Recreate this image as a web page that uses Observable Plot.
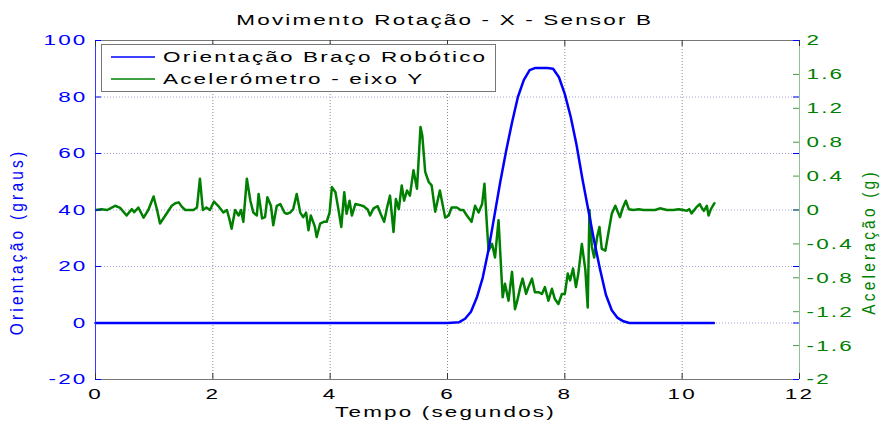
<!DOCTYPE html>
<html>
<head>
<meta charset="utf-8">
<script src="https://cdn.jsdelivr.net/npm/d3@7"></script>
<script src="https://cdn.jsdelivr.net/npm/@observablehq/plot@0.6"></script>
<style>
  body { margin: 0; background: #fff; }
  #wrap { position: relative; width: 887px; height: 424px; font-family: "Liberation Sans", Arial, sans-serif; }
  #title { height: 30px; padding: 10px 0 0 3px; box-sizing: border-box; line-height: 20px; text-align: center; font-size: 15.5px; color: #000; }
  #title span { display: inline-block; transform: scaleX(1.45); letter-spacing: 1.5px; white-space: nowrap; }
  #legend { position: absolute; left: 101px; top: 44px; width: 395px; height: 48px; box-sizing: border-box; border: 1px solid #777; background: #fff; }
  #legend .row { position: absolute; left: 0; height: 22px; width: 100%; line-height: 22px; font-size: 15.5px; white-space: nowrap; color: #000; }
  #legend .row svg { position: absolute; left: 9px; top: 0; }
  #legend .row span { position: absolute; left: 61px; top: 0; transform: scaleX(1.45); transform-origin: left center; letter-spacing: 1.5px; }
  svg { display: block; }
</style>
</head>
<body>
<div id="wrap">
  <div id="title"><span></span></div>
  <div id="chart"></div>
  <div id="legend"></div>
</div>
<script>
// Texts
const titleText = "Movimento Rotação - X - Sensor B";
const xLabel = "Tempo (segundos)";
const yLeftLabel = "Orientação (graus)";
const yRightLabel = "Aceleração (g)";
const seriesNames = ["Orientação Braço Robótico", "Acelerómetro - eixo Y"];
const seriesColors = ["#0000ff", "#008000"];

// Axis ticks
const xTicks = [0, 2, 4, 6, 8, 10, 12];
const degTicks = [-20, 0, 20, 40, 60, 80, 100];
const accTicks = [-2, -1.6, -1.2, -0.8, -0.4, 0, 0.4, 0.8, 1.2, 1.6, 2];

// Robot arm orientation (degrees) over time (s)
const orientTime = [0, 6.0, 6.2, 6.3, 6.4, 6.5, 6.6, 6.7, 6.8, 6.9, 7.0, 7.1, 7.2, 7.3, 7.4, 7.5, 7.6, 7.7, 7.8, 7.9, 8.0, 8.1, 8.2, 8.3, 8.4, 8.5, 8.6, 8.7, 8.8, 8.9, 9.0, 9.1, 10.54];
const orientDeg  = [0, 0, 0.3, 1.5, 4, 9, 16, 26, 38, 50, 61, 71, 80, 86, 89.5, 90.3, 90.3, 90.3, 90, 87, 81, 73, 63, 51, 40, 29, 19, 10, 4.5, 1.8, 0.6, 0, 0];

// Accelerometer Y axis (g) over time (s)
const accTime = [0.01, 0.10, 0.20, 0.27, 0.335, 0.42, 0.53, 0.62, 0.66, 0.73, 0.82, 0.90, 0.99, 1.05, 1.10, 1.19, 1.30, 1.36, 1.42, 1.47, 1.53, 1.67, 1.73, 1.78, 1.83, 1.89, 1.95, 2.02, 2.09, 2.18, 2.24, 2.28, 2.32, 2.38, 2.44, 2.48, 2.52, 2.58, 2.64, 2.69, 2.75, 2.78, 2.84, 2.89, 2.93, 2.99, 3.03, 3.09, 3.15, 3.22, 3.26, 3.32, 3.37, 3.43, 3.49, 3.54, 3.59, 3.63, 3.67, 3.71, 3.74, 3.77, 3.83, 3.89, 3.94, 3.99, 4.03, 4.09, 4.14, 4.19, 4.24, 4.28, 4.33, 4.37, 4.43, 4.50, 4.57, 4.64, 4.68, 4.74, 4.81, 4.86, 4.92, 4.97, 5.02, 5.08, 5.12, 5.17, 5.22, 5.26, 5.31, 5.36, 5.42, 5.48, 5.54, 5.57, 5.62, 5.68, 5.73, 5.79, 5.87, 5.96, 6.02, 6.07, 6.16, 6.22, 6.27, 6.33, 6.41, 6.47, 6.53, 6.59, 6.63, 6.67, 6.70, 6.76, 6.81, 6.87, 6.91, 6.94, 6.98, 7.04, 7.10, 7.15, 7.19, 7.24, 7.28, 7.34, 7.38, 7.44, 7.49, 7.55, 7.61, 7.66, 7.72, 7.78, 7.83, 7.89, 7.95, 8.00, 8.05, 8.09, 8.14, 8.19, 8.23, 8.29, 8.35, 8.39, 8.42, 8.46, 8.50, 8.55, 8.59, 8.63, 8.69, 8.74, 8.80, 8.86, 8.94, 8.99, 9.04, 9.09, 9.17, 9.26, 9.34, 9.43, 9.54, 9.62, 9.74, 9.85, 9.94, 10.02, 10.08, 10.12, 10.16, 10.24, 10.30, 10.33, 10.37, 10.42, 10.45, 10.49, 10.55];
const accG = [0.00, 0.01, 0.00, 0.025, 0.05, 0.025, -0.065, 0.01, -0.025, 0.03, -0.09, 0.00, 0.16, 0.00, -0.16, -0.065, 0.05, 0.08, 0.09, 0.04, 0.00, 0.00, 0.03, 0.37, 0.00, 0.03, 0.00, 0.10, 0.05, -0.03, 0.00, -0.10, -0.22, 0.00, -0.065, 0.00, -0.14, 0.37, 0.11, -0.03, -0.065, 0.19, -0.10, -0.085, 0.15, 0.05, -0.18, 0.05, 0.07, -0.03, -0.045, -0.03, 0.01, 0.19, -0.03, -0.085, -0.03, -0.24, -0.065, -0.14, -0.20, -0.32, -0.16, -0.14, -0.14, -0.03, 0.27, 0.21, 0.01, -0.20, 0.21, -0.045, 0.11, -0.065, 0.07, 0.06, 0.045, 0.005, -0.065, 0.02, 0.045, -0.045, -0.14, 0.03, 0.17, -0.26, 0.13, 0.01, 0.29, 0.11, 0.23, 0.17, 0.47, 0.25, 0.98, 0.88, 0.45, 0.33, 0.29, -0.02, 0.23, -0.09, -0.065, 0.03, 0.03, 0.00, 0.00, -0.065, -0.14, 0.05, -0.03, 0.07, 0.31, -0.16, -0.48, -0.40, -0.56, -0.12, -0.64, -1.03, -0.87, -1.07, -0.73, -1.17, -1.07, -0.91, -0.81, -0.99, -0.91, -0.81, -0.97, -0.97, -0.99, -0.91, -1.07, -0.93, -1.05, -1.11, -0.99, -0.99, -0.75, -0.83, -0.69, -0.91, -0.75, -0.40, -0.71, -1.15, 0.00, -0.43, -0.56, -0.32, -0.20, -0.46, -0.48, -0.28, -0.045, 0.05, -0.085, 0.03, 0.11, 0.01, 0.00, 0.01, 0.00, 0.00, 0.00, 0.02, 0.00, 0.00, 0.01, 0.00, -0.01, 0.01, -0.04, 0.03, 0.07, 0.03, -0.01, 0.05, -0.065, 0.01, 0.08];

const orientation = orientTime.map((t, i) => ({t, deg: orientDeg[i]}));
const accel = accTime.map((t, i) => ({t, g: accG[i]}));

// The right axis (g) shares the frame with the left axis (degrees):
// -2 g sits on -20°, +2 g on 100°.
const gToDeg = g => 40 + 30 * g;
const degToG = d => (d - 40) / 30;
const fmtNum = v => String(+v.toFixed(1)); // ASCII hyphen for negatives

const W = 887, H = 394;
const mL = 95, mR = 88, mT = 10, mB = 45;
const frameW = W - mL - mR, frameH = H - mT - mB;
const tick = 6;
const font = '"Liberation Sans", Arial, sans-serif';

document.querySelector("#title span").textContent = titleText;

const chart = Plot.plot({
  width: W, height: H,
  marginLeft: mL, marginRight: mR, marginTop: mT, marginBottom: mB,
  style: {fontFamily: font, fontSize: "15.5px", background: "#fff", overflow: "visible"},
  x: {domain: [xTicks[0], xTicks[xTicks.length - 1]]},
  y: {domain: [degTicks[0], degTicks[degTicks.length - 1]]},
  marks: [
    // dotted grid
    Plot.gridX(xTicks.slice(1, -1), {stroke: "#8c8c8c", strokeOpacity: 1, strokeDasharray: "1,2"}),
    Plot.gridY(degTicks.slice(1, -1), {stroke: "#a3a3dc", strokeOpacity: 1, strokeDasharray: "1,2"}),
    // series
    Plot.line(accel, {x: "t", y: d => gToDeg(d.g), stroke: seriesColors[1], strokeWidth: 2.5, strokeLinejoin: "round"}),
    Plot.line(orientation, {x: "t", y: "deg", stroke: seriesColors[0], strokeWidth: 2.5, strokeLinejoin: "round"}),
    // frame
    Plot.ruleY([degTicks[0], degTicks[degTicks.length - 1]], {stroke: "#777"}),
    Plot.ruleX([xTicks[0]], {stroke: "#3a3aff"}),
    Plot.ruleX([xTicks[xTicks.length - 1]], {stroke: "#8fc38f"}),
    // inward tick marks
    Plot.tickX(xTicks, {stroke: "#333", insetTop: frameH - tick}),
    Plot.tickX(xTicks, {stroke: "#333", insetBottom: frameH - tick}),
    Plot.tickY(degTicks, {stroke: seriesColors[0], insetRight: frameW - tick}),
    Plot.tickY(degTicks, {stroke: seriesColors[0], insetLeft: frameW - tick}),
    Plot.tickY(accTicks.slice(1, -1).map(gToDeg), {stroke: "#4a9a4a", insetLeft: frameW - tick}),
    // tick labels
    Plot.axisX(xTicks, {anchor: "bottom", tickSize: 0, tickPadding: 8, label: null, tickFormat: fmtNum, color: "#000"}),
    Plot.axisY(degTicks, {anchor: "left", tickSize: 0, tickPadding: 8, label: null, tickFormat: fmtNum, color: seriesColors[0]}),
    Plot.axisY(accTicks.map(gToDeg), {anchor: "right", tickSize: 0, tickPadding: 7, label: null, tickFormat: d => fmtNum(degToG(d)), color: seriesColors[1]}),
    // axis titles
    Plot.text([xLabel], {text: d => d, frameAnchor: "bottom", textAnchor: "middle", dx: -2, dy: 37, fill: "#000"}),
    Plot.text([yLeftLabel], {text: d => d, frameAnchor: "left", textAnchor: "middle", rotate: -90, dx: -79, dy: 32, fill: seriesColors[0]}),
    Plot.text([yRightLabel], {text: d => d, frameAnchor: "right", textAnchor: "middle", rotate: -90, dx: 69, dy: 32, fill: seriesColors[1]})
  ]
});
document.getElementById("chart").appendChild(chart);

// Wide, spaced lettering for all chart texts: each text gets a wrapper
// group that stretches it horizontally about its anchor point.
chart.querySelectorAll("text").forEach(el => {
  const rotated = /rotate/.test(el.getAttribute("transform") || "");
  el.style.letterSpacing = rotated ? "3.2px" : "1.5px";
  const g = document.createElementNS("http://www.w3.org/2000/svg", "g");
  el.parentNode.insertBefore(g, el);
  g.appendChild(el);
  const bb = g.getBBox();
  const anchor = getComputedStyle(el).textAnchor;
  let ax = bb.x + bb.width / 2;
  if (!rotated && anchor === "start") ax = bb.x;
  if (!rotated && anchor === "end") ax = bb.x + bb.width;
  const ay = bb.y + bb.height / 2;
  const sx = rotated ? 1.2 : 1.45;
  g.setAttribute("transform", `translate(${ax},${ay}) scale(${sx},1) translate(${-ax},${-ay})`);
});

// Legend box inside the plot area
const legend = document.getElementById("legend");
const rowTops = [1, 23];
seriesNames.forEach((name, i) => {
  const row = document.createElement("div");
  row.className = "row";
  row.style.top = rowTops[i] + "px";
  row.innerHTML = `<svg width="44" height="22"><line x1="0" x2="44" y1="11" y2="11" stroke="${seriesColors[i]}" stroke-width="1.6"/></svg><span></span>`;
  row.querySelector("span").textContent = name;
  legend.appendChild(row);
});
</script>
</body>
</html>
